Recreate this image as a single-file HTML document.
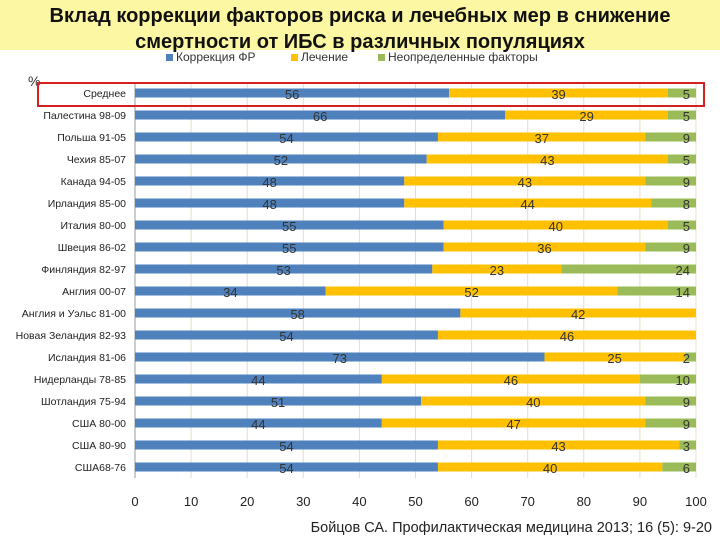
<!DOCTYPE html>
<html><head><meta charset="utf-8"><style>
body{margin:0;width:720px;height:540px;background:#fff;font-family:"Liberation Sans","DejaVu Sans",sans-serif;overflow:hidden}
</style></head><body>
<svg width="720" height="540">
<rect x="0" y="0" width="720" height="50" fill="#fbf7a2"/>
<text x="360" y="22" text-anchor="middle" font-size="20" font-weight="bold" fill="#111">Вклад коррекции факторов риска и лечебных мер в снижение</text>
<text x="360" y="48" text-anchor="middle" font-size="20" font-weight="bold" fill="#111">смертности от ИБС в различных популяциях</text>
<g font-size="12" fill="#333">
<rect x="166" y="54" width="7" height="7" fill="#4f81bd"/><text x="176" y="61">Коррекция ФР</text>
<rect x="291" y="54" width="7" height="7" fill="#ffc000"/><text x="301" y="61">Лечение</text>
<rect x="378" y="54" width="7" height="7" fill="#9bbb59"/><text x="388" y="61">Неопределенные факторы</text>
</g>
<text x="28" y="86" font-size="14" fill="#333">%</text>
<g id="plot"></g>
<rect x="38" y="83" width="666" height="23" fill="none" stroke="#d42020" stroke-width="2"/>
<text x="712" y="532" text-anchor="end" font-size="14.5" fill="#222">Бойцов СА. Профилактическая медицина 2013; 16 (5): 9-20</text>
</svg>
<script>
const categories=["Среднее","Палестина 98-09","Польша 91-05","Чехия 85-07","Канада 94-05","Ирландия 85-00","Италия 80-00","Швеция 86-02","Финляндия 82-97","Англия 00-07","Англия и Уэльс 81-00","Новая Зеландия 82-93","Исландия 81-06","Нидерланды 78-85","Шотландия 75-94","США 80-00","США 80-90","США68-76"];
const riskCorrection=[56,66,54,52,48,48,55,55,53,34,58,54,73,44,51,44,54,54];
const treatment=[39,29,37,43,43,44,40,36,23,52,42,46,25,46,40,47,43,40];
const undetermined=[5,5,9,5,9,8,5,9,24,14,0,0,2,10,9,9,3,6];
const xTicks=[0,10,20,30,40,50,60,70,80,90,100];
const NS="http://www.w3.org/2000/svg";
const g=document.getElementById('plot');
const x0=135,x1=696,yTop=82,yBot=478;
const xs=v=>x0+(x1-x0)*v/100;
const rowH=(yBot-yTop)/categories.length;
const yc=i=>yTop+rowH*(i+0.5);
function mk(t,a,p){const e=document.createElementNS(NS,t);for(const k in a)e.setAttribute(k,a[k]);(p||g).appendChild(e);return e;}
xTicks.forEach(t=>{
 const l=mk('line',{x1:xs(t),x2:xs(t),y1:yTop,y2:yBot,stroke:t===0?'#999':'#e8dcc8','stroke-width':1});
 
 
 const tx=mk('text',{x:xs(t),y:506,'text-anchor':'middle','font-size':13,fill:'#222'});tx.textContent=t;
 
 
});
const series=[[riskCorrection,'#4f81bd','risk'],[treatment,'#ffc000','treatment'],[undetermined,'#9bbb59','undetermined']];
categories.forEach((c,i)=>{
 const lab=mk('text',{x:126,y:yc(i)+4,'text-anchor':'end','font-size':10.5,fill:'#222'});lab.textContent=c;
 
 
 let acc=0;
 series.forEach(([arr,col,nm])=>{
  const v=arr[i];
  if(v>0){
   const r=mk('rect',{x:xs(acc),y:yc(i)-4.5,width:xs(acc+v)-xs(acc),height:9,fill:col});
   
   
   const t=mk('text',{x:xs(acc+v/2),y:yc(i)+6,'text-anchor':'middle','font-size':13,fill:'#333'});t.textContent=v;
   if(nm==='undetermined'){t.setAttribute('x',xs(acc+v)-6);t.setAttribute('text-anchor','end');}
   
   
  }
  acc+=v;
 });
});
</script>
</body></html>
